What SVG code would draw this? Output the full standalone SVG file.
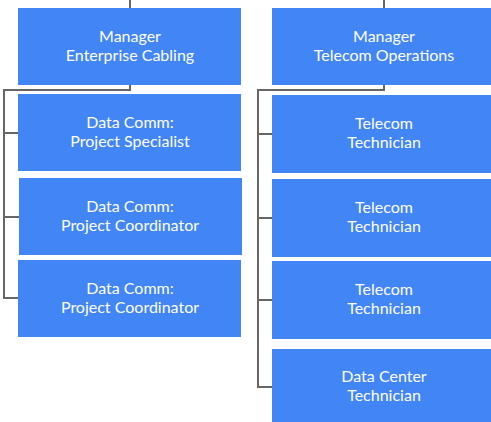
<svg xmlns="http://www.w3.org/2000/svg" width="491" height="422" viewBox="0 0 491 422">
<style>
.box{fill:#4285f4}
.t{font-family:Lato,"Liberation Sans",sans-serif;font-size:16px;fill:#ffffff;text-anchor:middle}
.c{fill:none;stroke:#666666;stroke-width:2}
</style>
<rect width="491" height="422" fill="#ffffff"/>
<g id="connectors">
<path class="c" d="M130,0 V8"/>
<path class="c" d="M130,85 V90 H4 V298 H18"/>
<path class="c" d="M4,133 H18"/>
<path class="c" d="M4,217 H19"/>
<path class="c" d="M384,0 V8"/>
<path class="c" d="M384,85 V90 H258 V387 H272"/>
<path class="c" d="M258,134 H272"/>
<path class="c" d="M258,218 H272"/>
<path class="c" d="M258,300 H272"/>
</g>
<g id="mgr-cabling"><rect class="box" x="18" y="8" width="223" height="77"/><text class="t" x="130" y="42">Manager</text><text class="t" x="130" y="61">Enterprise Cabling</text></g>
<g id="dc-specialist"><rect class="box" x="18" y="94" width="223" height="77"/><text class="t" x="130" y="128">Data Comm:</text><text class="t" x="130" y="147">Project Specialist</text></g>
<g id="dc-coordinator-1"><rect class="box" x="19" y="178" width="223" height="77"/><text class="t" x="130" y="212">Data Comm:</text><text class="t" x="130" y="231">Project Coordinator</text></g>
<g id="dc-coordinator-2"><rect class="box" x="18" y="260" width="223" height="77"/><text class="t" x="130" y="294">Data Comm:</text><text class="t" x="130" y="313">Project Coordinator</text></g>
<g id="mgr-telecom"><rect class="box" x="272" y="8" width="220" height="77"/><text class="t" x="384" y="42">Manager</text><text class="t" x="384" y="61">Telecom Operations</text></g>
<g id="tel-tech-1"><rect class="box" x="272" y="95" width="220" height="78"/><text class="t" x="384" y="129">Telecom</text><text class="t" x="384" y="148">Technician</text></g>
<g id="tel-tech-2"><rect class="box" x="272" y="179" width="220" height="78"/><text class="t" x="384" y="213">Telecom</text><text class="t" x="384" y="232">Technician</text></g>
<g id="tel-tech-3"><rect class="box" x="272" y="261" width="220" height="78"/><text class="t" x="384" y="295">Telecom</text><text class="t" x="384" y="314">Technician</text></g>
<g id="dc-tech"><rect class="box" x="272" y="349" width="220" height="73"/><text class="t" x="384" y="382">Data Center</text><text class="t" x="384" y="401">Technician</text></g>
</svg>
